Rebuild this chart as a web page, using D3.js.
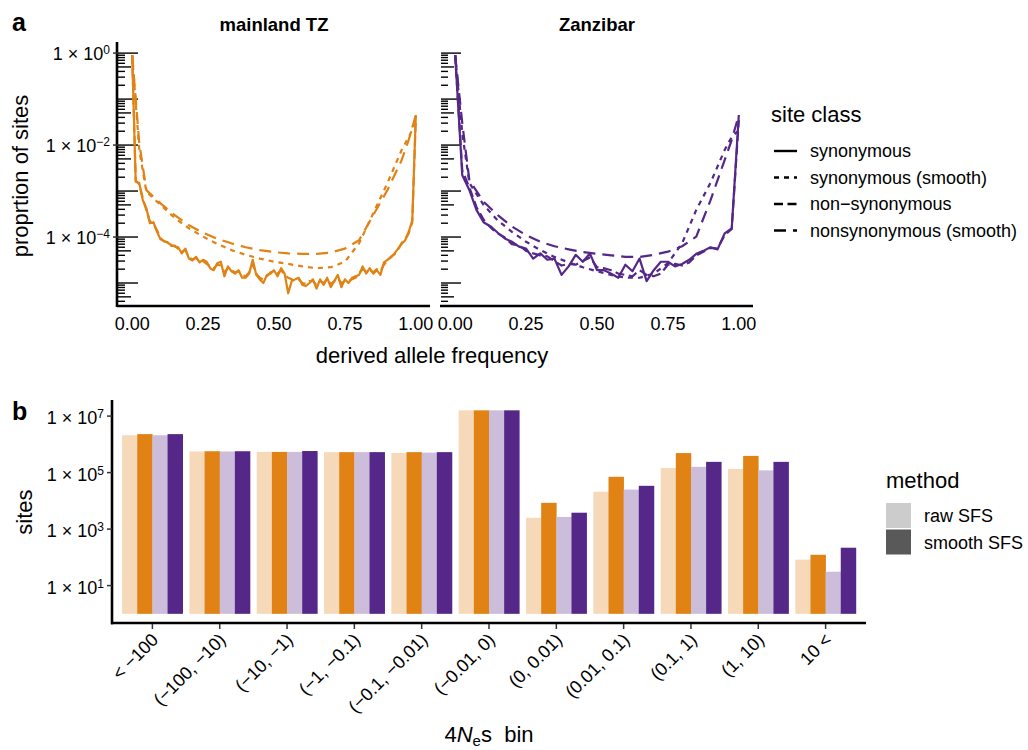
<!DOCTYPE html>
<html lang="en">
<head>
<meta charset="utf-8">
<script src="https://cdn.jsdelivr.net/npm/d3@7"></script>
<style>
  body { margin: 0; background: #fff; }
  svg text { font-family: "Liberation Sans", Arial, sans-serif; fill: #000; }
</style>
</head>
<body>
<div id="chart"></div>
<script>

// ---------- panel a data: proportion of sites by derived allele frequency ----------
var mainlandBins = 80;
var zanzibarBins = 40;

var mainlandSyn = [0.91, 1.6e-3, 1.5e-3, 6.3e-4, 4.2e-4, 2.0e-4, 2.1e-4, 1.3e-4, 8.9e-5, 8.2e-5,
  7.5e-5, 6.7e-5, 6.2e-5, 6.0e-5, 4.4e-5, 5.6e-5, 3.4e-5, 3.1e-5, 3.7e-5, 2.8e-5,
  3.2e-5, 2.9e-5, 2.1e-5, 1.9e-5, 2.7e-5, 2.9e-5, 1.4e-5, 2.3e-5, 1.8e-5, 1.6e-5,
  1.9e-5, 1.3e-5, 1.3e-5, 1.6e-5, 3.2e-5, 1.5e-5, 1.2e-5, 1.0e-5, 1.5e-5, 1.6e-5,
  1.9e-5, 1.4e-5, 2.1e-5, 1.6e-5, 6.0e-6, 1.1e-5, 1.2e-5, 1.3e-5, 9.1e-6, 8.6e-6,
  1.0e-5, 1.2e-5, 7.6e-6, 1.2e-5, 9.1e-6, 1.3e-5, 8.1e-6, 1.1e-5, 1.5e-5, 8.1e-6,
  1.2e-5, 1.0e-5, 1.3e-5, 1.4e-5, 1.5e-5, 2.3e-5, 1.6e-5, 2.1e-5, 1.6e-5, 1.9e-5,
  1.5e-5, 2.8e-5, 3.2e-5, 3.6e-5, 4.4e-5, 5.6e-5, 7.1e-5, 8.5e-5, 1.3e-4, 2.3e-4,
  4.5e-2];

var mainlandNonsyn = [0.9, 1.7e-3, 1.4e-3, 7.0e-4, 3.8e-4, 2.2e-4, 1.9e-4, 1.4e-4, 9.5e-5, 8.0e-5,
  7.8e-5, 6.4e-5, 6.5e-5, 5.5e-5, 4.8e-5, 5.2e-5, 3.6e-5, 3.3e-5, 3.5e-5, 3.0e-5,
  3.0e-5, 2.6e-5, 2.3e-5, 2.1e-5, 2.5e-5, 2.4e-5, 1.7e-5, 2.1e-5, 1.9e-5, 1.7e-5,
  1.8e-5, 1.5e-5, 1.4e-5, 1.7e-5, 2.6e-5, 1.6e-5, 1.3e-5, 1.2e-5, 1.4e-5, 1.7e-5,
  1.8e-5, 1.6e-5, 1.9e-5, 1.5e-5, 1.3e-5, 1.2e-5, 1.1e-5, 1.2e-5, 1.0e-5, 9.5e-6,
  1.1e-5, 1.1e-5, 9.0e-6, 1.1e-5, 1.0e-5, 1.2e-5, 9.5e-6, 1.1e-5, 1.3e-5, 1.0e-5,
  1.1e-5, 1.1e-5, 1.2e-5, 1.3e-5, 1.6e-5, 2.0e-5, 1.8e-5, 1.9e-5, 1.7e-5, 2.0e-5,
  1.8e-5, 2.5e-5, 3.0e-5, 3.8e-5, 4.2e-5, 5.4e-5, 7.4e-5, 9.0e-5, 1.2e-4, 2.1e-4,
  4.0e-2];

var zanzibarSyn = [0.9, 2.2e-3, 1.05e-3, 3.9e-4, 2.1e-4, 1.7e-4, 1.24e-4, 9.3e-5, 7.9e-5, 6.2e-5,
  5.6e-5, 3.4e-5, 4.4e-5, 3.2e-5, 3.4e-5, 1.5e-5, 2.3e-5, 4.1e-5, 2.9e-5, 4.4e-5,
  1.9e-5, 1.9e-5, 1.6e-5, 1.3e-5, 2.5e-5, 1.8e-5, 3.4e-5, 1.1e-5, 1.9e-5, 2.9e-5,
  2.9e-5, 2.3e-5, 2.6e-5, 3.2e-5, 4.3e-5, 5.0e-5, 6.0e-5, 5.4e-5, 1.2e-4, 1.55e-4,
  4.5e-2];

var zanzibarNonsyn = [0.9, 2.8e-3, 1.2e-3, 4.5e-4, 2.4e-4, 1.6e-4, 1.2e-4, 9.8e-5, 7.0e-5, 6.6e-5,
  5.0e-5, 4.4e-5, 4.0e-5, 3.8e-5, 3.0e-5, 2.4e-5, 2.6e-5, 2.5e-5, 3.0e-5, 3.6e-5,
  2.2e-5, 2.1e-5, 1.9e-5, 1.6e-5, 1.5e-5, 1.4e-5, 1.9e-5, 1.5e-5, 1.4e-5, 1.6e-5,
  2.5e-5, 2.6e-5, 2.4e-5, 2.8e-5, 4.0e-5, 4.8e-5, 5.8e-5, 5.6e-5, 1.1e-4, 1.5e-4,
  3.5e-2];

// smoothed SFS, read at these frequencies
var smoothFreq = [0, 0.025, 0.05, 0.1, 0.15, 0.2, 0.25, 0.3, 0.35, 0.4, 0.45, 0.5,
  0.55, 0.6, 0.65, 0.7, 0.75, 0.8, 0.85, 0.9, 0.95, 0.975, 1];

var mainlandSynSmooth = [0.9, 7.8e-3, 9.7e-4, 5.0e-4, 2.6e-4, 1.55e-4, 1.02e-4, 7.1e-5, 5.2e-5, 4.1e-5,
  3.4e-5, 2.9e-5, 2.6e-5, 2.3e-5, 2.1e-5, 2.2e-5, 2.9e-5, 7.3e-5, 3.3e-4, 1.5e-3, 7.8e-3, 1.5e-2, 3.0e-2];
var mainlandNonsynSmooth = [0.9, 1.1e-2, 1.05e-3, 5.4e-4, 3.0e-4, 1.8e-4, 1.24e-4, 9.1e-5, 7.3e-5, 6.0e-5,
  5.2e-5, 4.7e-5, 4.4e-5, 4.3e-5, 4.3e-5, 4.6e-5, 5.6e-5, 8.5e-5, 3.0e-4, 1.05e-3, 4.7e-3, 1.3e-2, 4.5e-2];
var zanzibarSynSmooth = [0.9, 1.8e-2, 1.5e-3, 5.0e-4, 2.3e-4, 1.3e-4, 7.9e-5, 5.2e-5, 3.7e-5, 2.8e-5,
  2.2e-5, 1.8e-5, 1.5e-5, 1.3e-5, 1.3e-5, 1.6e-5, 2.7e-5, 7.3e-5, 3.9e-4, 1.5e-3, 7.8e-3, 1.5e-2, 2.1e-2];
var zanzibarNonsynSmooth = [0.9, 3.0e-2, 1.7e-3, 5.9e-4, 3.0e-4, 1.7e-4, 1.1e-4, 7.9e-5, 6.3e-5, 5.4e-5,
  4.7e-5, 4.3e-5, 4.0e-5, 3.7e-5, 3.7e-5, 4.1e-5, 4.8e-5, 6.3e-5, 1.02e-4, 6.3e-4, 4.7e-3, 1.3e-2, 4.5e-2];

var freqTicks = [0, 0.25, 0.5, 0.75, 1];
var freqTickLabels = ["0.00", "0.25", "0.50", "0.75", "1.00"];
var propTickExp = [0, -2, -4];

var siteClasses = ["synonymous", "synonymous (smooth)", "non\u2212synonymous", "nonsynonymous (smooth)"];

// ---------- panel b data: sites per 4Ns bin ----------
var bins = ["< \u2212100", "(\u2212100, \u221210)", "(\u221210, \u22121)", "(\u22121, \u22120.1)",
  "(\u22120.1, \u22120.01)", "(\u22120.01, 0)", "(0, 0.01)", "(0.01, 0.1)", "(0.1, 1)", "(1, 10)", "10 <"];
var mainlandRaw    = [2.1e6, 5.6e5, 5.4e5, 5.3e5, 5.0e5, 1.6e7, 2.5e3, 2.1e4, 1.45e5, 1.35e5, 83];
var mainlandSmooth = [2.3e6, 5.7e5, 5.4e5, 5.3e5, 5.3e5, 1.6e7, 8.5e3, 7.1e4, 4.9e5, 3.9e5, 123];
var zanzibarRaw    = [2.1e6, 5.6e5, 5.4e5, 5.3e5, 5.1e5, 1.6e7, 2.7e3, 2.5e4, 1.6e5, 1.2e5, 31];
var zanzibarSmooth = [2.3e6, 5.7e5, 5.8e5, 5.3e5, 5.3e5, 1.6e7, 3.8e3, 3.4e4, 2.4e5, 2.4e5, 219];
var sitesTickExp = [1, 3, 5, 7];
var methods = ["raw SFS", "smooth SFS"];

// ---------- svg ----------
var svg = d3.select("#chart")
    .append("svg")
    .attr("width", 1028)
    .attr("height", 750);

var orange = "#E08214", purple = "#542788";
var dashes = {
  "synonymous": null,
  "synonymous (smooth)": "5,5",
  "non\u2212synonymous": "9,4.5",
  "nonsynonymous (smooth)": "12,7"
};

// helper: "1 × 10^e" label
function sciLabel(sel, e, supSize) {
  sel.append("tspan").text("1 \u00d7 10");
  sel.append("tspan")
      .attr("dy", "-0.5em")
      .style("font-size", supSize + "px")
      .text(e < 0 ? "\u2212" + (-e) : String(e));
}

// ===================== PANEL A =====================
var yA = d3.scaleLog()
    .domain([Math.pow(10, -5.5), Math.pow(10, 0.22)])
    .range([306, 43]);

var panelsA = [
  {title: "mainland TZ", color: orange, range: [118, 430], n: mainlandBins,
   syn: mainlandSyn, nonsyn: mainlandNonsyn, synS: mainlandSynSmooth, nonsynS: mainlandNonsynSmooth, yaxis: true},
  {title: "Zanzibar", color: purple, range: [441, 753], n: zanzibarBins,
   syn: zanzibarSyn, nonsyn: zanzibarNonsyn, synS: zanzibarSynSmooth, nonsynS: zanzibarNonsynSmooth, yaxis: false}
];

panelsA.forEach(function(p) {
  var x = d3.scaleLinear().domain([-0.05, 1.05]).range(p.range);
  var g = svg.append("g");
  var x0 = p.range[0];

  // log ticks (annotation_logticks style) inside the panel
  var logTicks = [];
  d3.range(-6, 1).forEach(function(d) {
    d3.range(1, 10).forEach(function(k) {
      var v = k * Math.pow(10, d);
      if (v >= yA.domain()[0] && v <= yA.domain()[1]) logTicks.push({v: v, k: k});
    });
  });
  g.selectAll(".logtick")
      .data(logTicks)
      .enter().append("line")
      .attr("x1", x0)
      .attr("x2", function(d) { return x0 + (d.k === 1 ? 20 : d.k === 5 ? 13 : 7); })
      .attr("y1", function(d) { return yA(d.v); })
      .attr("y2", function(d) { return yA(d.v); })
      .attr("stroke", "#000")
      .attr("stroke-width", 1.4);

  // lines
  var line = d3.line()
      .x(function(d) { return x(d[0]); })
      .y(function(d) { return yA(d[1]); });
  var series = [
    {key: siteClasses[3], pts: smoothFreq.map(function(f, i) { return [f, p.nonsynS[i]]; })},
    {key: siteClasses[1], pts: smoothFreq.map(function(f, i) { return [f, p.synS[i]]; })},
    {key: siteClasses[2], pts: p.nonsyn.map(function(v, i) { return [i / p.n, v]; })},
    {key: siteClasses[0], pts: p.syn.map(function(v, i) { return [i / p.n, v]; })}
  ];
  g.selectAll(".sfs")
      .data(series)
      .enter().append("path")
      .attr("d", function(d) { return line(d.pts); })
      .attr("fill", "none")
      .attr("stroke", p.color)
      .attr("stroke-width", 2.2)
      .attr("stroke-linejoin", "round")
      .attr("stroke-dasharray", function(d) { return dashes[d.key]; });

  // axes
  g.append("line")
      .attr("x1", x0 - 1).attr("x2", p.range[1])
      .attr("y1", 306).attr("y2", 306)
      .attr("stroke", "#000").attr("stroke-width", 2.6);
  if (p.yaxis) {
    g.append("line")
        .attr("x1", x0 - 1).attr("x2", x0 - 1)
        .attr("y1", 42).attr("y2", 307)
        .attr("stroke", "#000").attr("stroke-width", 2.6);
    propTickExp.forEach(function(e) {
      var yy = yA(Math.pow(10, e));
      g.append("line")
          .attr("x1", x0 - 5).attr("x2", x0)
          .attr("y1", yy).attr("y2", yy)
          .attr("stroke", "#333").attr("stroke-width", 1.5);
      var t = g.append("text")
          .attr("x", x0 - 8).attr("y", yy + 7)
          .attr("text-anchor", "end")
          .style("font-size", "18px");
      sciLabel(t, e, 12);
    });
  }

  g.selectAll(".xlab")
      .data(freqTicks)
      .enter().append("text")
      .attr("x", function(d) { return x(d); })
      .attr("y", 330)
      .attr("text-anchor", "middle")
      .style("font-size", "18px")
      .text(function(d, i) { return freqTickLabels[i]; });

  g.append("text")
      .attr("x", (p.range[0] + p.range[1]) / 2)
      .attr("y", 31)
      .attr("text-anchor", "middle")
      .style("font-size", "18.5px")
      .style("font-weight", "bold")
      .text(p.title);
});

svg.append("text")
    .attr("transform", "translate(28,176) rotate(-90)")
    .attr("text-anchor", "middle")
    .style("font-size", "22px")
    .text("proprtion of sites");

svg.append("text")
    .attr("x", 432).attr("y", 363)
    .attr("text-anchor", "middle")
    .style("font-size", "22px")
    .text("derived allele frequency");

svg.append("text").attr("x", 12).attr("y", 31)
    .style("font-size", "25px").style("font-weight", "bold").text("a");

// legend a
var legA = svg.append("g").attr("transform", "translate(771,0)");
legA.append("text").attr("x", 0).attr("y", 122)
    .style("font-size", "22px").text("site class");
var legItem = legA.selectAll(".li")
    .data(siteClasses)
    .enter().append("g")
    .attr("transform", function(d, i) { return "translate(0," + (151 + i * 26.5) + ")"; });
legItem.append("line")
    .attr("x1", 3).attr("x2", 26).attr("y1", 0).attr("y2", 0)
    .attr("stroke", "#000").attr("stroke-width", 2.4)
    .attr("stroke-dasharray", function(d) { return dashes[d]; });
legItem.append("text")
    .attr("x", 39).attr("y", 6)
    .style("font-size", "18px")
    .text(function(d) { return d; });

// ===================== PANEL B =====================
var xB = d3.scaleBand()
    .domain(bins)
    .range([112, 866])
    .paddingInner(0.1)
    .paddingOuter(0.15);

var barSeries = [
  {key: "mainland raw", color: "#F5D9B9", values: mainlandRaw},
  {key: "mainland smooth", color: orange, values: mainlandSmooth},
  {key: "zanzibar raw", color: "#CCBEDB", values: zanzibarRaw},
  {key: "zanzibar smooth", color: purple, values: zanzibarSmooth}
];

var xSub = d3.scaleBand()
    .domain(barSeries.map(function(d) { return d.key; }))
    .range([0, xB.bandwidth()]);

var yB = d3.scaleLog()
    .domain([Math.pow(10, -0.36), Math.pow(10, 7.57)])
    .range([624, 400]);

var barData = [];
barSeries.forEach(function(s) {
  s.values.forEach(function(v, i) {
    barData.push({bin: bins[i], key: s.key, color: s.color, v: v});
  });
});

svg.append("g").selectAll("rect")
    .data(barData)
    .enter().append("rect")
    .attr("x", function(d) { return xB(d.bin) + xSub(d.key); })
    .attr("width", xSub.bandwidth() + 0.3)
    .attr("y", function(d) { return yB(d.v); })
    .attr("height", function(d) { return yB(1) - yB(d.v); })
    .attr("fill", function(d) { return d.color; });

// axes b
svg.append("line")
    .attr("x1", 112).attr("x2", 112).attr("y1", 400).attr("y2", 624.3)
    .attr("stroke", "#000").attr("stroke-width", 2.6);
svg.append("line")
    .attr("x1", 111).attr("x2", 866).attr("y1", 623).attr("y2", 623)
    .attr("stroke", "#000").attr("stroke-width", 2.6);

sitesTickExp.forEach(function(e) {
  var yy = yB(Math.pow(10, e));
  svg.append("line")
      .attr("x1", 107).attr("x2", 112).attr("y1", yy).attr("y2", yy)
      .attr("stroke", "#333").attr("stroke-width", 1.5);
  var t = svg.append("text")
      .attr("x", 104).attr("y", yy + 8)
      .attr("text-anchor", "end")
      .style("font-size", "18px");
  sciLabel(t, e, 12);
});

svg.append("g").selectAll("line")
    .data(bins)
    .enter().append("line")
    .attr("x1", function(d) { return xB(d) + xB.bandwidth() / 2; })
    .attr("x2", function(d) { return xB(d) + xB.bandwidth() / 2; })
    .attr("y1", 624).attr("y2", 629)
    .attr("stroke", "#333").attr("stroke-width", 1.5);

svg.append("g").selectAll("text")
    .data(bins)
    .enter().append("text")
    .attr("transform", function(d) {
      return "translate(" + (xB(d) + xB.bandwidth() / 2 + 7) + ",641) rotate(-45)";
    })
    .attr("text-anchor", "end")
    .style("font-size", "18px")
    .text(function(d) { return d; });

svg.append("text")
    .attr("transform", "translate(32,512) rotate(-90)")
    .attr("text-anchor", "middle")
    .style("font-size", "22px")
    .text("sites");

var xt = svg.append("text")
    .attr("x", 489).attr("y", 742)
    .attr("text-anchor", "middle")
    .style("font-size", "22px")
    .style("white-space", "pre");
xt.append("tspan").text("4");
xt.append("tspan").style("font-style", "italic").text("N");
xt.append("tspan").attr("dy", 4).style("font-size", "15px").text("e");
xt.append("tspan").attr("dy", -4).text("s  bin");

svg.append("text").attr("x", 12).attr("y", 420)
    .style("font-size", "25px").style("font-weight", "bold").text("b");

// legend b
var legB = svg.append("g").attr("transform", "translate(886,0)");
legB.append("text").attr("x", 0).attr("y", 488)
    .style("font-size", "22px").text("method");
var mItem = legB.selectAll(".mi")
    .data(methods)
    .enter().append("g")
    .attr("transform", function(d, i) { return "translate(0," + (503 + i * 26.5) + ")"; });
mItem.append("rect")
    .attr("width", 25).attr("height", 25)
    .attr("fill", function(d, i) { return i === 0 ? "#CCCCCC" : "#595959"; });
mItem.append("text")
    .attr("x", 38).attr("y", 19)
    .style("font-size", "18px")
    .text(function(d) { return d; });

</script>
</body>
</html>
